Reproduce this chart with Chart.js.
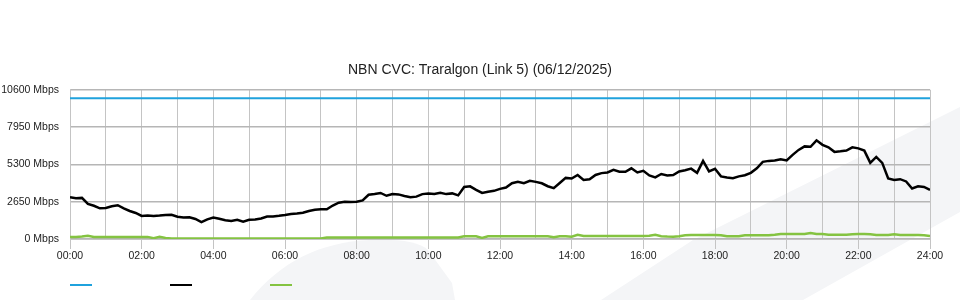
<!DOCTYPE html>
<html>
<head>
<meta charset="utf-8">
<script src="https://cdn.jsdelivr.net/npm/chart.js@4.4.1/dist/chart.umd.min.js"></script>
<style>
  html, body { margin: 0; padding: 0; background: #fff; }
  #wrap { position: relative; width: 960px; height: 300px; }
  #legend { position: absolute; left: 70px; top: 284px; display: flex; }
  #legend .item { width: 100px; height: 2px; }
  #legend .key { width: 22px; height: 2px; }
</style>
</head>
<body>
<div id="wrap">
  <canvas id="chart" width="960" height="300"></canvas>
  <div id="legend"></div>
</div>
<script>
// 10 minute samples, 00:00 to 24:00 (hours)
const sampleTimes = Array.from({ length: 145 }, (_, i) => i / 6);

const capacityTimes = [0, 24];
const capacity = [10000, 10000];

const download = [
  2970, 2900, 2920, 2490, 2360, 2180, 2200, 2330, 2400, 2170, 1990, 1850,
  1640, 1670, 1640, 1670, 1710, 1720, 1580, 1520, 1540, 1420, 1200, 1400,
  1530, 1440, 1330, 1280, 1370, 1230, 1360, 1390, 1460, 1600, 1600, 1650,
  1710, 1780, 1810, 1860, 1990, 2080, 2110, 2110, 2380, 2580, 2650, 2630,
  2650, 2740, 3140, 3200, 3270, 3070, 3190, 3170, 3060, 2970, 3010, 3190,
  3240, 3200, 3290, 3190, 3240, 3100, 3700, 3740, 3490, 3270, 3360, 3420,
  3560, 3660, 3960, 4060, 3960, 4130, 4060, 3960, 3750, 3610, 3980, 4340,
  4300, 4550, 4200, 4240, 4550, 4680, 4730, 4910, 4780, 4770, 5020, 4730,
  4840, 4520, 4380, 4620, 4520, 4550, 4800, 4890, 5000, 4700, 5550, 4800,
  4990, 4450, 4370, 4320, 4450, 4530, 4700, 5020, 5480, 5550, 5580, 5670,
  5580, 5980, 6330, 6580, 6550, 7010, 6690, 6510, 6190, 6230, 6280, 6510,
  6440, 6280, 5410, 5830, 5410, 4300, 4200, 4250, 4090, 3590, 3740, 3700,
  3490
];

const upload = [
  150, 150, 170, 230, 150, 150, 150, 150, 150, 150, 150, 150,
  150, 150, 60, 150, 80, 40, 40, 40, 40, 40, 40, 40,
  40, 40, 40, 40, 40, 40, 40, 40, 40, 40, 40, 40,
  40, 40, 40, 40, 40, 40, 40, 110, 110, 110, 110, 110,
  110, 110, 110, 110, 110, 110, 110, 110, 110, 110, 110, 110,
  110, 110, 110, 110, 110, 110, 190, 190, 190, 80, 200, 200,
  200, 200, 200, 200, 200, 200, 200, 200, 200, 120, 200, 200,
  160, 300, 210, 210, 210, 210, 210, 210, 210, 210, 210, 210,
  210, 230, 300, 200, 170, 160, 200, 260, 280, 280, 280, 280,
  280, 260, 190, 190, 190, 270, 260, 260, 260, 260, 300, 350,
  350, 350, 350, 350, 420, 350, 350, 300, 300, 300, 300, 330,
  350, 350, 330, 280, 280, 280, 330, 280, 280, 280, 280, 260,
  210
];

const yTicks = [0, 2650, 5300, 7950, 10600];

const toPoints = (xs, ys) => ys.map((y, i) => ({ x: xs[i], y: y }));
const font = { family: "'Liberation Sans', Arial, sans-serif", size: 10.5 };

// faint logo swoosh behind the plot
const watermark = {
  id: "watermark",
  beforeDraw(chart) {
    const ctx = chart.ctx;
    ctx.save();
    ctx.fillStyle = "#f4f5f7";
    ctx.beginPath();
    ctx.moveTo(601, 300);
    ctx.lineTo(693, 240);
    ctx.lineTo(960, 107);
    ctx.lineTo(960, 212);
    ctx.lineTo(910, 240);
    ctx.lineTo(803, 300);
    ctx.closePath();
    ctx.fill();
    ctx.beginPath();
    ctx.moveTo(250, 300);
    ctx.bezierCurveTo(280, 262, 320, 242, 370, 240);
    ctx.bezierCurveTo(400, 239, 420, 242, 428, 250);
    ctx.lineTo(452, 283);
    ctx.lineTo(455, 300);
    ctx.closePath();
    ctx.fill();
    ctx.restore();
  },
};

const chart = new Chart(document.getElementById("chart"), {
  type: "line",
  data: {
    datasets: [
      {
        label: "Capacity",
        data: toPoints(capacityTimes, capacity),
        borderColor: "#1fa2dd",
        backgroundColor: "#1fa2dd",
        borderWidth: 2,
        pointRadius: 0,
      },
      {
        label: "Download",
        data: toPoints(sampleTimes, download),
        borderColor: "#000000",
        backgroundColor: "#000000",
        borderWidth: 2.5,
        pointRadius: 0,
      },
      {
        label: "Upload",
        data: toPoints(sampleTimes, upload),
        borderColor: "#84c341",
        backgroundColor: "#84c341",
        borderWidth: 2.5,
        pointRadius: 0,
      },
    ],
  },
  options: {
    responsive: false,
    animation: false,
    events: [],
    layout: { padding: 0 },
    plugins: {
      legend: { display: false },
      tooltip: { enabled: false },
      title: {
        display: true,
        text: "NBN CVC: Traralgon (Link 5) (06/12/2025)",
        color: "#222",
        font: { family: font.family, size: 14, weight: "normal" },
        padding: { top: 62, bottom: 11 },
      },
    },
    scales: {
      x: {
        type: "linear",
        min: 0,
        max: 24,
        afterFit: (scale) => { scale.height = 61; },
        grid: {
          color: "#c4c4c4",
          tickLength: 10,
          tickColor: (ctx) => (ctx.tick && ctx.tick.value % 2 === 0 ? "#c4c4c4" : "rgba(0,0,0,0)"),
        },
        border: { color: "#c4c4c4" },
        ticks: {
          stepSize: 1,
          autoSkip: false,
          maxRotation: 0,
          padding: 1,
          color: "#222",
          font: font,
          callback: (v) => (v % 2 === 0 ? String(v).padStart(2, "0") + ":00" : ""),
        },
      },
      y: {
        min: 0,
        max: 10600,
        afterFit: (scale) => { scale.width = 70; },
        afterBuildTicks: (scale) => { scale.ticks = yTicks.map((v) => ({ value: v })); },
        grid: { color: "#b6b6b6", lineWidth: 1.5, drawTicks: false },
        border: { color: "#c4c4c4" },
        ticks: {
          padding: 11,
          color: "#222",
          font: font,
          callback: (v) => v + " Mbps",
        },
      },
      yRight: {
        position: "right",
        afterFit: (scale) => { scale.width = 30; },
        grid: { display: false },
        border: { display: false },
        ticks: { display: false },
      },
    },
  },
  plugins: [watermark],
});

// legend keys as HTML, one per dataset
const legendEl = document.getElementById("legend");
Chart.defaults.plugins.legend.labels.generateLabels(chart).forEach((item) => {
  const cell = document.createElement("div");
  cell.className = "item";
  const key = document.createElement("div");
  key.className = "key";
  key.style.background = item.strokeStyle;
  cell.appendChild(key);
  legendEl.appendChild(cell);
});
</script>
</body>
</html>
